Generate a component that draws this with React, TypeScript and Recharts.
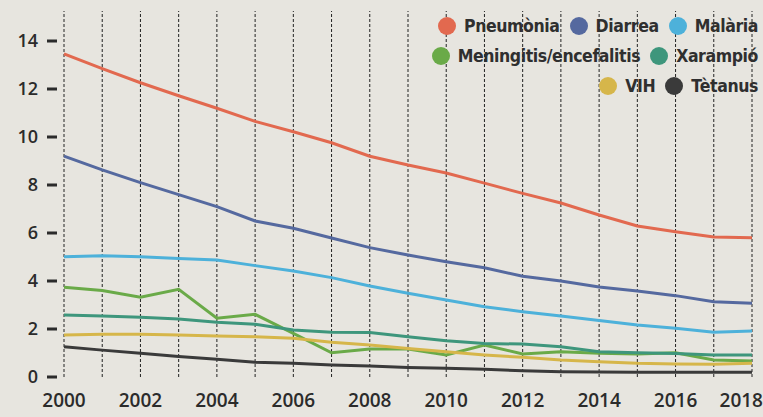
import React from 'react';
import { LineChart, Line, XAxis, YAxis, ReferenceLine, Legend } from 'recharts';

const years = [2000, 2001, 2002, 2003, 2004, 2005, 2006, 2007, 2008, 2009, 2010, 2011, 2012, 2013, 2014, 2015, 2016, 2017, 2018];
const pneumonia = [13.46, 12.85, 12.26, 11.72, 11.2, 10.65, 10.22, 9.76, 9.2, 8.83, 8.5, 8.08, 7.65, 7.25, 6.75, 6.29, 6.05, 5.83, 5.8];
const diarrea = [9.2, 8.63, 8.1, 7.6, 7.1, 6.5, 6.2, 5.79, 5.39, 5.08, 4.8, 4.55, 4.2, 4.0, 3.75, 3.58, 3.39, 3.14, 3.07];
const malaria = [5.01, 5.05, 5.01, 4.94, 4.87, 4.64, 4.42, 4.14, 3.79, 3.49, 3.21, 2.93, 2.72, 2.54, 2.35, 2.17, 2.03, 1.86, 1.92];
const meningitis = [3.74, 3.6, 3.32, 3.65, 2.45, 2.61, 1.82, 1.01, 1.17, 1.17, 0.92, 1.33, 0.96, 1.05, 0.99, 0.96, 1.01, 0.71, 0.67];
const xarampio = [2.58, 2.54, 2.49, 2.42, 2.28, 2.2, 1.96, 1.86, 1.85, 1.68, 1.51, 1.4, 1.37, 1.26, 1.05, 1.01, 0.98, 0.92, 0.92];
const vih = [1.75, 1.78, 1.78, 1.75, 1.71, 1.68, 1.61, 1.45, 1.33, 1.19, 1.05, 0.92, 0.82, 0.71, 0.64, 0.57, 0.54, 0.53, 0.57];
const tetanus = [1.26, 1.12, 0.99, 0.85, 0.74, 0.61, 0.57, 0.5, 0.46, 0.4, 0.36, 0.32, 0.26, 0.22, 0.21, 0.2, 0.2, 0.2, 0.2];
const yTicks = [0, 2, 4, 6, 8, 10, 12, 14];

// legend rows, right aligned like the original
const series = [
    { key: 'pneumonia', name: 'Pneumònia', color: '#e2694f', row: 0 },
    { key: 'diarrea', name: 'Diarrea', color: '#55699f', row: 0 },
    { key: 'malaria', name: 'Malària', color: '#4db1da', row: 0 },
    { key: 'meningitis', name: 'Meningitis/encefalitis', color: '#6aaa48', row: 1 },
    { key: 'xarampio', name: 'Xarampió', color: '#3e967c', row: 1 },
    { key: 'vih', name: 'VIH', color: '#d6b64a', row: 2 },
    { key: 'tetanus', name: 'Tètanus', color: '#3a3a3a', row: 2 },
];

const data = years.map((year, i) => ({
    year,
    pneumonia: pneumonia[i],
    diarrea: diarrea[i],
    malaria: malaria[i],
    meningitis: meningitis[i],
    xarampio: xarampio[i],
    vih: vih[i],
    tetanus: tetanus[i],
}));

const FONT = '"Open Sans", sans-serif';
const INK = '#2b2b2b';

// label plus the short dash the paper puts between number and plot
const YTick = ({ x, y, payload }: any) => (
    <g>
        <text x={x} y={y} dy="0.355em" textAnchor="end" fontFamily={FONT} fontSize={18} fontWeight={600} fill={INK}>
            {payload.value}
        </text>
        <rect x={Number(x) + 9} y={Number(y) - 1.5} width={10} height={3} fill={INK} />
    </g>
);

const XTick = ({ x, y, payload }: any) => {
    if (payload.value % 2 !== 0) return null;
    const last = payload.value === years[years.length - 1];
    return (
        <text x={last ? x + 11 : x} y={y} dy="0.71em" textAnchor={last ? 'end' : 'middle'} fontFamily={FONT} fontSize={19} fontWeight={600} fill={INK}>
            {payload.value}
        </text>
    );
};

const LegendBox = () => (
    <div style={{ fontFamily: '"DejaVu Sans Condensed", "DejaVu Sans", sans-serif', fontStretch: 'condensed', fontWeight: 700, fontSize: 17.5, letterSpacing: -0.4, color: '#2f2f2f' }}>
        {[0, 1, 2].map(r => (
            <div key={r} style={{ display: 'flex', justifyContent: 'flex-end', alignItems: 'center', height: 30 }}>
                {series.filter(s => s.row === r).map(s => (
                    <div key={s.key} style={{ display: 'flex', alignItems: 'center', marginLeft: 10 }}>
                        <span style={{ width: 18, height: 18, borderRadius: 9, background: s.color, marginRight: 8, display: 'inline-block' }} />
                        <span>{s.name}</span>
                    </div>
                ))}
            </div>
        ))}
    </div>
);

const App: React.FC = () => {
    return (
        <div style={{ position: 'absolute', left: 0, top: 0, width: 763, height: 417, background: '#e7e5df' }}>
            <LineChart width={763} height={417} data={data} margin={{ top: 11, right: 11, left: 0, bottom: 0 }}>
                <XAxis
                    dataKey="year"
                    interval={0}
                    axisLine={false}
                    tickLine={false}
                    tickSize={0}
                    tickMargin={17}
                    height={40}
                    padding={{ left: 7, right: 0 }}
                    tick={<XTick />}
                />
                <YAxis
                    width={57}
                    domain={[0, 15.25]}
                    ticks={yTicks}
                    axisLine={false}
                    tickLine={false}
                    tickSize={10}
                    tickMargin={9}
                    tick={<YTick />}
                />
                {/* dashed year rules, one per year */}
                {years.map(yr => (
                    <ReferenceLine key={yr} x={yr} stroke="#222" strokeDasharray="3 2" strokeWidth={1} />
                ))}
                <Legend
                    layout="horizontal"
                    verticalAlign="middle"
                    align="center"
                    wrapperStyle={{ top: 11, left: 400, width: 358, height: 90 }}
                    content={() => <LegendBox />}
                />
                {series.map(s => (
                    <Line
                        key={s.key}
                        type="linear"
                        dataKey={s.key}
                        name={s.name}
                        stroke={s.color}
                        strokeWidth={3}
                        dot={false}
                        isAnimationActive={false}
                    />
                ))}
            </LineChart>
        </div>
    );
};

export default App;
